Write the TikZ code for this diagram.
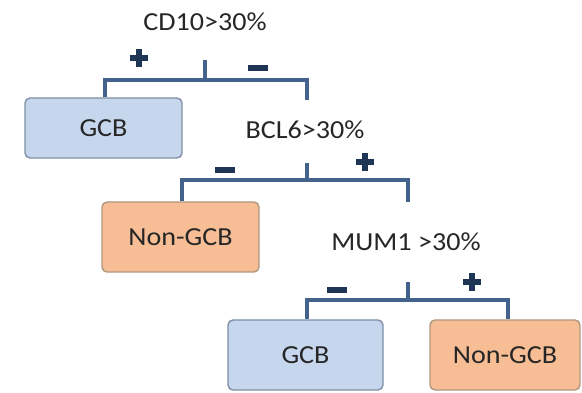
\documentclass[tikz,border=0pt]{standalone}
\usepackage{fontspec}
\setmainfont{Carlito}[FakeStretch=1.08]
\definecolor{txt}{HTML}{262626}
\definecolor{brc}{HTML}{44638C}
\definecolor{sym}{HTML}{1F3556}
\definecolor{bfill}{HTML}{C6D6EC}
\definecolor{bdraw}{HTML}{7F8FA6}
\definecolor{ofill}{HTML}{F7BE96}
\definecolor{odraw}{HTML}{B0977F}
\tikzset{
  box/.style={rounded corners=5pt, line width=1.4pt, inner sep=0pt, text=txt,
    font=\fontsize{26}{30}\selectfont},
  gcb/.style={box, fill=bfill, draw=bdraw},
  ngcb/.style={box, fill=ofill, draw=odraw},
  lab/.style={text=txt, font=\fontsize{26}{30}\selectfont, inner sep=0pt},
  br/.style={draw=brc, line width=3.2pt},
  plussym/.style={fill=sym},
}
\begin{document}
\begin{tikzpicture}[x=1pt,y=1pt]
\useasboundingbox (0,0) rectangle (582,-393);
% labels
\node[lab] (l1) at (205,-22) {CD10>30\%};
\node[lab] (l2) at (305,-130) {BCL6>30\%};
\node[lab] (l3) at (406,-242) {MUM1 >30\%};
% boxes
\node[gcb, minimum width=157pt, minimum height=60pt] (g1) at (103.5,-128) {GCB};
\node[ngcb, minimum width=157pt, minimum height=70pt] (n1) at (180.5,-237) {Non-GCB};
\node[gcb, minimum width=155pt, minimum height=70pt] (g2) at (305.5,-355) {GCB};
\node[ngcb, minimum width=150pt, minimum height=70pt] (n2) at (505,-355) {Non-GCB};
% bracket coordinates
\coordinate (t1) at (205,-60);
\coordinate (h1) at (205,-80);
\coordinate (e1) at (307,-100);
\coordinate (t2) at (307,-163);
\coordinate (h2) at (307,-180);
\coordinate (e2) at (408,-202);
\coordinate (t3) at (408,-282);
\coordinate (h3) at (408,-300);
% brackets
\draw[br] (t1) -- (h1);
\draw[br] (g1.north -| 105,0) |- (h1) -| (e1);
\draw[br] (t2) -- (h2);
\draw[br] (n1.north -| 182,0) |- (h2) -| (e2);
\draw[br] (t3) -- (h3);
\draw[br] (g2.north -| 307,0) |- (h3) -| (n2.north -| 508,0);
% plus / minus signs
\foreach \x/\y in {139/-58, 365/-162, 472/-282}{
  \fill[plussym] (\x-9,\y-3) rectangle (\x+9,\y+3);
  \fill[plussym] (\x-3,\y-9) rectangle (\x+3,\y+9);
}
\foreach \x/\y in {258/-68, 225/-170, 337/-290}{
  \fill[plussym] (\x-10,\y-3) rectangle (\x+10,\y+3);
}
\end{tikzpicture}
\end{document}
